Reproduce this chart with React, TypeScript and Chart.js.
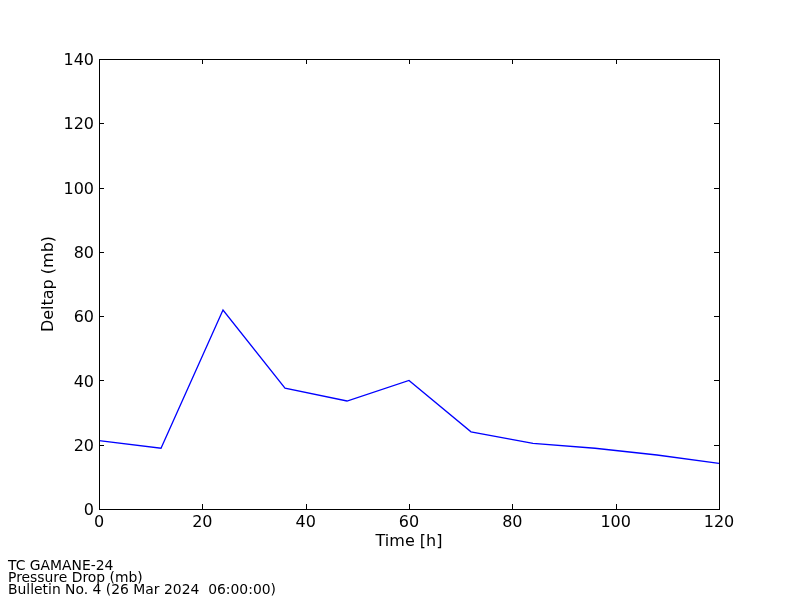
import React, { useEffect, useRef } from "react";
import { Chart, registerables } from "chart.js";

Chart.register(...registerables);

const hours = [0, 12, 24, 36, 48, 60, 72, 84, 96, 108, 120];
const deltap = [21.3, 18.9, 61.9, 37.6, 33.6, 40.0, 24.0, 20.4, 18.9, 16.8, 14.2];
const xTicks = [0, 20, 40, 60, 80, 100, 120];
const yTicks = [0, 20, 40, 60, 80, 100, 120, 140];
const footerLines = ["TC GAMANE-24", "Pressure Drop (mb)", "Bulletin No. 4 (26 Mar 2024  06:00:00)"];

const FONT = "'DejaVu Sans', sans-serif";
const FS = 16;

const framePlugin = {
  id: "frameTicks",
  afterDraw(chart: any) {
    const { ctx, chartArea: a, scales } = chart;
    const len = 5;
    ctx.save();
    ctx.strokeStyle = "#000";
    ctx.lineWidth = 1;
    ctx.beginPath();
    for (const v of xTicks) {
      const x = Math.round(scales.x.getPixelForValue(v)) + 0.5;
      ctx.moveTo(x, a.bottom);
      ctx.lineTo(x, a.bottom - len);
      ctx.moveTo(x, a.top);
      ctx.lineTo(x, a.top + len);
    }
    for (const v of yTicks) {
      const y = Math.round(scales.y.getPixelForValue(v)) + 0.5;
      ctx.moveTo(a.left, y);
      ctx.lineTo(a.left + len, y);
      ctx.moveTo(a.right, y);
      ctx.lineTo(a.right - len, y);
    }
    ctx.stroke();
    ctx.strokeRect(Math.round(a.left) + 0.5, Math.round(a.top) + 0.5, Math.round(a.right - a.left), Math.round(a.bottom - a.top));
    ctx.restore();
  },
};

export default function App() {
  const ref = useRef<HTMLCanvasElement | null>(null);
  useEffect(() => {
    document.body.style.margin = "0";
    const chart = new Chart(ref.current as HTMLCanvasElement, {
      type: "line",
      data: {
        datasets: [
          {
            data: hours.map((h, i) => ({ x: h, y: deltap[i] })),
            borderColor: "#0000ff",
            borderWidth: 1.3,
            pointRadius: 0,
            fill: false,
            tension: 0,
          },
        ],
      },
      options: {
        animation: false,
        responsive: false,
        maintainAspectRatio: false,
        layout: { padding: { left: 0, top: 59, right: 81, bottom: 0 } },
        plugins: { legend: { display: false }, tooltip: { enabled: false } },
        scales: {
          x: {
            type: "linear",
            min: 0,
            max: 120,
            afterFit: (s: any) => {
              s.height = 91;
            },
            afterBuildTicks: (s: any) => {
              s.ticks = xTicks.map((v) => ({ value: v }));
            },
            grid: { display: false, drawTicks: false },
            border: { display: false },
            ticks: { color: "#000", font: { family: FONT, size: FS }, padding: 4, maxRotation: 0 },
            title: {
              display: true,
              text: "Time [h]",
              color: "#000",
              font: { family: FONT, size: FS },
              padding: { top: 0, bottom: 49 },
            },
          },
          y: {
            type: "linear",
            min: 0,
            max: 140,
            afterFit: (s: any) => {
              s.width = 99;
            },
            afterBuildTicks: (s: any) => {
              s.ticks = yTicks.map((v) => ({ value: v }));
            },
            grid: { display: false, drawTicks: false },
            border: { display: false },
            ticks: { color: "#000", font: { family: FONT, size: FS }, padding: 5, labelOffset: 2 },
            title: {
              display: true,
              text: "Deltap (mb)",
              color: "#000",
              font: { family: FONT, size: FS },
              padding: { top: 39, bottom: 0 },
            },
          },
        },
      },
      plugins: [framePlugin],
    } as any);
    return () => chart.destroy();
  }, []);

  return (
    <div style={{ position: "absolute", left: 0, top: 0, width: 800, height: 600, background: "#fff" }}>
      <canvas ref={ref} width={800} height={600} style={{ display: "block" }} />
      <div
        style={{
          position: "absolute",
          left: 8,
          top: 559,
          fontFamily: FONT,
          fontSize: 13.9,
          lineHeight: "12px",
          color: "#000",
          whiteSpace: "pre",
        }}
      >
        {footerLines.map((t) => (
          <div key={t}>{t}</div>
        ))}
      </div>
    </div>
  );
}
